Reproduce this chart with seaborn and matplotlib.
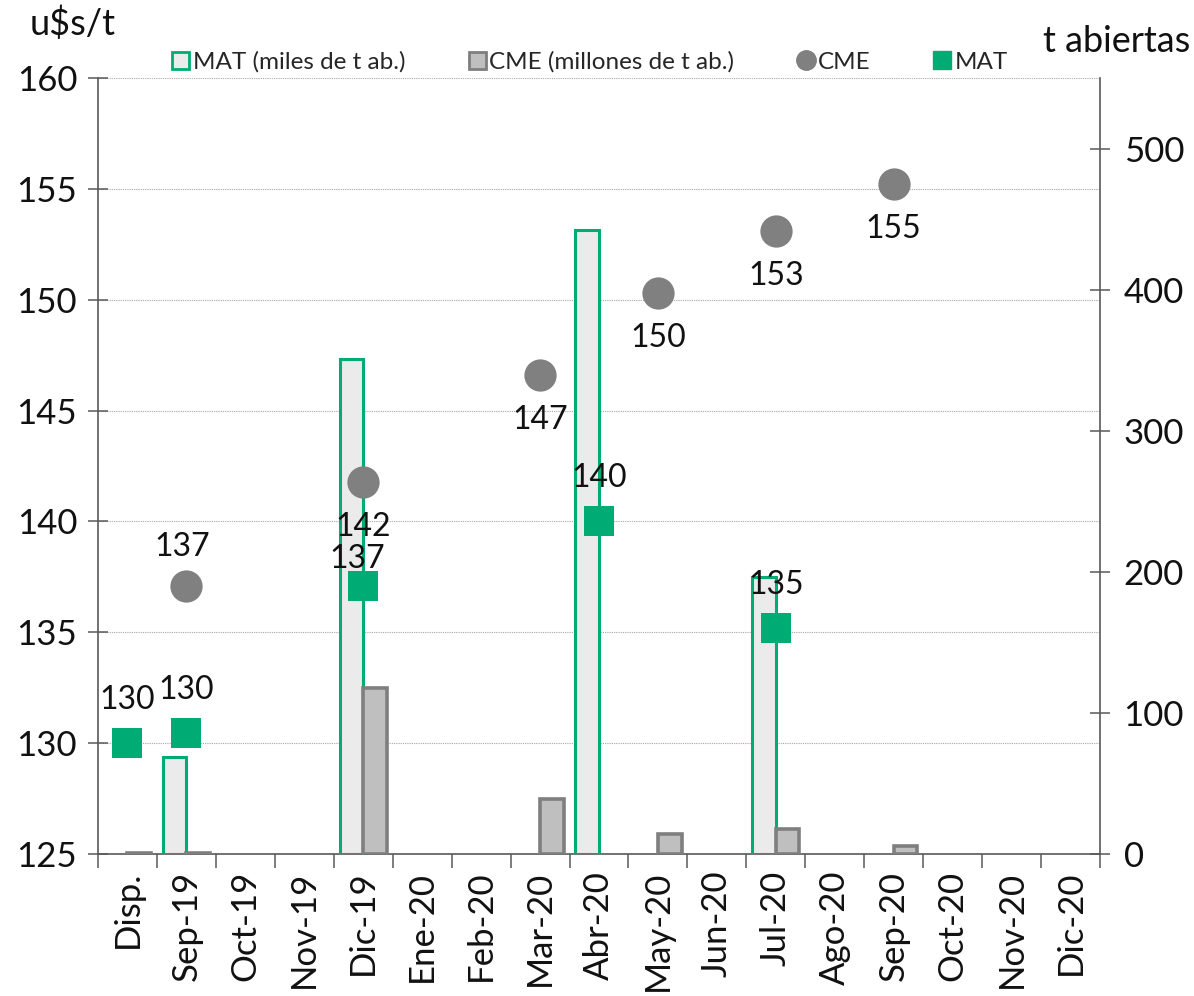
import numpy as np
import pandas as pd
import matplotlib
matplotlib.use("Agg")
import matplotlib.pyplot as plt
import seaborn as sns
from matplotlib.patches import Patch
from matplotlib.lines import Line2D

nan = np.nan

# ---------------- data ----------------
categories = ["Disp.", "Sep-19", "Oct-19", "Nov-19", "Dic-19", "Ene-20", "Feb-20",
              "Mar-20", "Abr-20", "May-20", "Jun-20", "Jul-20", "Ago-20", "Sep-20",
              "Oct-20", "Nov-20", "Dic-20"]
mat_oi = [nan, 69, nan, nan, 351, nan, nan, nan, 442, nan, nan, 196, nan, nan, nan, nan, nan]
cme_oi = [0.6, 0.6, nan, nan, 118, nan, nan, 39, nan, 14, nan, 17.5, nan, 5.7, nan, nan, nan]
cme_price = [nan, 137.1, nan, nan, 141.8, nan, nan, 146.6, nan, 150.3, nan, 153.1, nan, 155.2, nan, nan, nan]
mat_price = [130.0, 130.45, nan, nan, 137.1, nan, nan, nan, 140.0, nan, nan, 135.2, nan, nan, nan, nan, nan]

mat_bar_name = "MAT (miles de t ab.)"
cme_bar_name = "CME (millones de t ab.)"

# ---------------- style ----------------
sns.set_theme(style="white")
plt.rcParams["font.family"] = ["Lato", "DejaVu Sans"]

GREEN = "#00AC73"
GRAY_PT = "#808080"
MAT_FACE = "#EBEBEB"
CME_FACE = "#BFBFBF"
CME_EDGE = "#7F7F7F"
AXC = "#595959"
FS = 23
FS_TICK = 25

fig = plt.figure(figsize=(11.94, 9.96), dpi=100)
ax = fig.add_axes([98 / 1194, 1 - 854 / 996, (1100 - 98) / 1194, (854 - 78) / 996])

n = len(categories)
xpos = np.arange(n)

# gridlines / left axis
ax.set_xlim(-0.5, n - 0.5)
ax.set_ylim(125, 160)
ax.set_yticks(np.arange(125, 161, 5))
ax.yaxis.grid(True, color="#A6A6A6", linestyle=(0, (1, 1)), linewidth=0.8)
ax.set_axisbelow(True)

# bars on right axis
ax2 = ax.twinx()
df_bars = pd.DataFrame({
    "cat": categories * 2,
    "serie": [mat_bar_name] * n + [cme_bar_name] * n,
    "valor": mat_oi + cme_oi,
})
sns.barplot(data=df_bars, x="cat", y="valor", hue="serie", order=categories,
            hue_order=[mat_bar_name, cme_bar_name], palette=[MAT_FACE, CME_FACE],
            width=0.8, dodge=True, legend=False, ax=ax2, errorbar=None)
for cont, ec, lw in zip(ax2.containers, [GREEN, CME_EDGE], [2.2, 2.6]):
    for p in cont.patches:
        p.set_edgecolor(ec)
        p.set_linewidth(lw)
ax2.set_ylim(0, 550)
ax2.set_yticks(np.arange(0, 501, 100))
ax2.set_xlim(-0.5, n - 0.5)
ax2.set_xlabel("")
ax2.set_ylabel("")

# points on third axis (above bars)
ax3 = ax.twinx()
ax3.set_ylim(125, 160)
ax3.set_xlim(-0.5, n - 0.5)
df_pts = pd.DataFrame({"x": np.concatenate([xpos, xpos]),
                       "precio": cme_price + mat_price,
                       "serie": ["CME"] * n + ["MAT"] * n})
sns.scatterplot(data=df_pts[df_pts.serie == "CME"], x="x", y="precio", ax=ax3,
                color=GRAY_PT, s=540, marker="o", linewidth=0, legend=False, zorder=3)
sns.scatterplot(data=df_pts[df_pts.serie == "MAT"], x="x", y="precio", ax=ax3,
                color=GREEN, s=450, marker="s", linewidth=0, legend=False, zorder=4)
ax3.axis("off")

# data labels
for i, v in enumerate(cme_price):
    if np.isnan(v):
        continue
    dy = 39 if i == 1 else -45
    ax3.annotate(f"{v:.0f}", (i, v), xytext=(-4 if i == 1 else 0, dy), textcoords="offset pixels",
                 ha="center", va="center", fontsize=FS, color="#111111")
for i, v in enumerate(mat_price):
    if np.isnan(v):
        continue
    dy = 27 if i == 4 else 43
    ax3.annotate(f"{v:.0f}", (i, v), xytext=(-6 if i == 4 else 0, dy), textcoords="offset pixels",
                 ha="center", va="center", fontsize=FS, color="#111111")

# axes styling
for a in (ax, ax2, ax3):
    a.spines["top"].set_visible(False)
for a in (ax, ax2):
    for s in ("left", "right", "bottom"):
        a.spines[s].set_color(AXC)
        a.spines[s].set_linewidth(1.2)
ax.spines["right"].set_visible(False)
ax2.spines["left"].set_visible(False)
ax2.spines["bottom"].set_visible(False)

ax.tick_params(axis="y", which="major", direction="inout", length=14, width=1.1,
               color=AXC, labelsize=FS_TICK, pad=8, left=True, labelcolor="#111111")
ax2.tick_params(axis="y", which="major", direction="inout", length=14, width=1.1,
                color=AXC, labelsize=FS_TICK, pad=10, right=True, labelcolor="#111111")

ax.set_xticks(xpos)
ax.set_xticklabels(categories, rotation=90, fontsize=FS_TICK, color="#111111")
ax.set_xticks(np.arange(-0.5, n, 1.0), minor=True)
ax.tick_params(axis="x", which="major", length=0, pad=12)
ax.tick_params(axis="x", which="minor", direction="out", length=10, width=1.1, color=AXC, bottom=True)
ax2.tick_params(axis="x", which="both", length=0, labelbottom=False)

# axis titles
fig.text(30 / 1194, 1 - 24 / 996, "u$s/t", fontsize=26, ha="left", va="center", color="#111111")
fig.text(1190 / 1194, 1 - 41 / 996, "t abiertas", fontsize=26, ha="right", va="center", color="#111111")

# legend
handles = [
    Patch(facecolor=MAT_FACE, edgecolor=GREEN, linewidth=2),
    Patch(facecolor=CME_FACE, edgecolor=CME_EDGE, linewidth=2),
    Line2D([], [], marker="o", linestyle="", color=GRAY_PT, markersize=14),
    Line2D([], [], marker="s", linestyle="", color=GREEN, markersize=13),
]
labels = [mat_bar_name, cme_bar_name, "CME", "MAT"]
fig.legend(handles, labels, loc="center", bbox_to_anchor=(590 / 1194, 1 - 62 / 996),
           ncol=4, frameon=False, fontsize=17.5, handlelength=0.7, handleheight=0.7,
           handletextpad=0.15, columnspacing=2.6)

fig.savefig("out.png", dpi=100)
